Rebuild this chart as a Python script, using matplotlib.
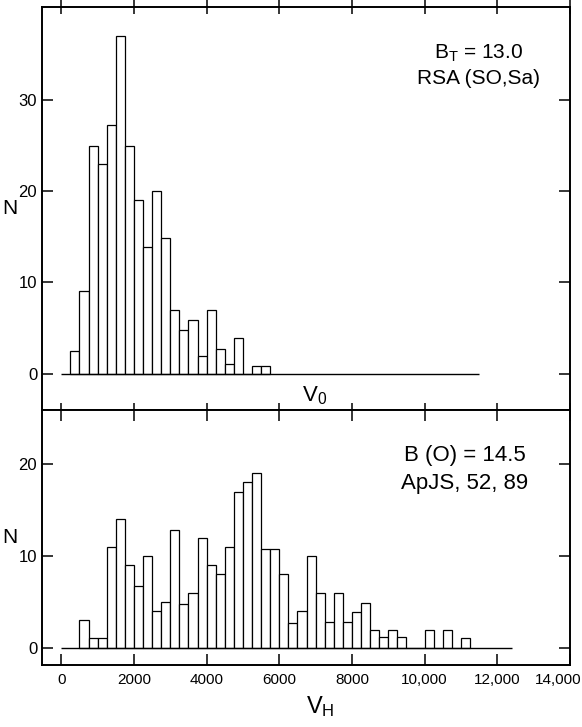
import numpy as np
import matplotlib
matplotlib.use("Agg")
import matplotlib.pyplot as plt
from matplotlib.transforms import ScaledTranslation

plt.rcParams.update({
    "font.family": ["Liberation Sans", "DejaVu Sans"],
    "mathtext.fontset": "custom",
    "mathtext.rm": "Liberation Sans",
    "mathtext.it": "Liberation Sans",
    "axes.linewidth": 1.4,
})

BIN_W = 250

# top panel: V_0 histogram, bins start at 250
top_start = 250
top_counts = [2.5, 9, 25, 23, 27.3, 37, 25, 19, 13.9, 20, 14.9, 7, 4.8, 5.9,
              1.9, 7, 2.7, 1.1, 3.9, 0, 0.85, 0.85]
top_base_end = 11500

# bottom panel: V_H histogram, bins start at 500
bot_start = 500
bot_counts = [3, 1, 1, 11, 14, 9, 6.7, 10, 4, 5, 12.8, 4.8, 6, 11.9, 9, 8, 11,
              17, 18, 19, 10.8, 10.7, 8, 2.7, 4, 10, 6, 2.8, 6, 2.8, 3.9, 4.9,
              1.9, 1.2, 1.9, 1.2, 0, 0, 1.9, 0, 1.9, 0, 1]
bot_base_end = 12400

x_ticks = [0, 2000, 4000, 6000, 8000, 10000, 12000, 14000]
x_labels = ["0", "2000", "4000", "6000", "8000", "10,000", "12,000", "14,000"]
top_yticks = [0, 10, 20, 30]
bot_yticks = [0, 10, 20]

fig = plt.figure(figsize=(5.82, 7.27), dpi=100)
ax1 = fig.add_axes([0.0722, 0.4360, 0.9072, 0.5544])
ax2 = fig.add_axes([0.0722, 0.0853, 0.9072, 0.3507])

for ax, start, counts, base_end in [(ax1, top_start, top_counts, top_base_end),
                                    (ax2, bot_start, bot_counts, bot_base_end)]:
    lefts = start + BIN_W * np.arange(len(counts))
    ax.bar(lefts, counts, width=BIN_W, align="edge", facecolor="white",
           edgecolor="black", linewidth=0.9)
    ax.hlines(0, 0, base_end, color="black", lw=1.0)
    ax.set_xlim(-530, 14000)
    ax.set_xticks(x_ticks)
    ax.tick_params(direction="in", length=8, width=1.1, top=True, right=True,
                   labelsize=12)

ax1.set_ylim(-4, 40.2)
ax1.set_yticks(top_yticks)
ax1.tick_params(axis="x", labelbottom=False, direction="inout", length=10)
ax1.set_ylabel("N", fontsize=15, rotation=0, labelpad=6, va="center")
ax1.text(0.517, 0.008, r"V$_0$", transform=ax1.transAxes, fontsize=16,
         ha="center", va="bottom")
ax1.text(0.826, 0.886, r"B$_\mathrm{T}$ = 13.0", transform=ax1.transAxes,
         fontsize=15, ha="center", va="center")
ax1.text(0.826, 0.822, "RSA (SO,Sa)", transform=ax1.transAxes,
         fontsize=15, ha="center", va="center")

ax2.set_ylim(-1.9, 25.9)
ax2.set_yticks(bot_yticks)
ax2.set_xticklabels(x_labels, fontsize=11)
ax2.tick_params(axis="x", pad=6)
# last label sits partly outside the frame, as in the print
last = ax2.get_xticklabels()[-1]
last.set_transform(last.get_transform() + ScaledTranslation(-12 / 100, 0, fig.dpi_scale_trans))
ax2.set_ylabel("N", fontsize=15, rotation=0, labelpad=6, va="center")
ax2.set_xlabel(r"V$_\mathrm{H}$", fontsize=17, labelpad=7)
ax2.xaxis.set_label_coords(0.527, -0.115)
ax2.text(0.80, 0.82, "B (O) = 14.5", transform=ax2.transAxes,
         fontsize=16, ha="center", va="center")
ax2.text(0.80, 0.71, "ApJS, 52, 89", transform=ax2.transAxes,
         fontsize=16, ha="center", va="center")

fig.savefig("out.png", dpi=100)
